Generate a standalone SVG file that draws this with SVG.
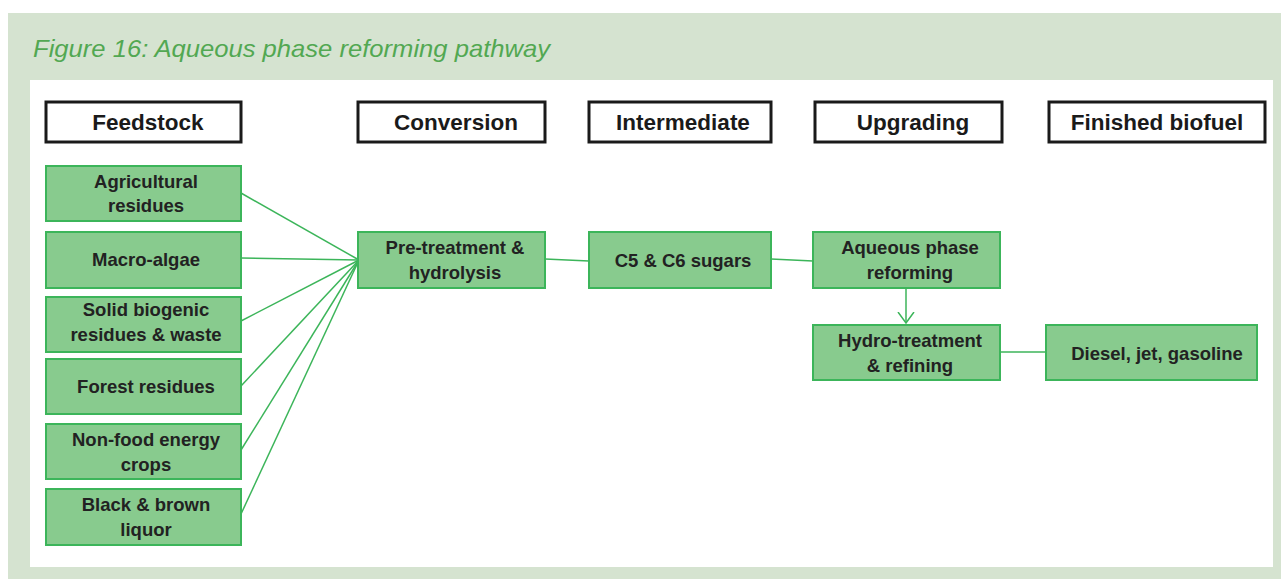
<svg xmlns="http://www.w3.org/2000/svg" width="1281" height="579" viewBox="0 0 1281 579">
<style>
.hdr{fill:#fff;stroke:#1a1a1a;stroke-width:3}
.hdrt{font-family:"Liberation Sans",Arial,sans-serif;font-weight:bold;font-size:22.5px;fill:#1a1a1a;text-anchor:middle}
.box{fill:#88cb8e;stroke:#3cb55a;stroke-width:2}
.bt{font-family:"Liberation Sans",Arial,sans-serif;font-weight:bold;font-size:18.5px;fill:#222;text-anchor:middle}
.ln{stroke:#3cb55a;stroke-width:1.5;fill:none}
</style>
<defs>
<marker id="arr" viewBox="0 0 12 18" refX="11" refY="9" markerWidth="12" markerHeight="18" markerUnits="userSpaceOnUse" orient="auto">
<path d="M0,1 L11,9 L0,17" fill="none" stroke="#3cb55a" stroke-width="1.5"/>
</marker>
</defs>
<rect x="8" y="13" width="1273" height="566" fill="#d5e3d0"/>
<rect x="30" y="80" width="1243" height="487" fill="#fff"/>
<text x="33" y="57" font-family="Liberation Sans,Arial,sans-serif" font-style="italic" font-size="24" fill="#52a852" textLength="517" lengthAdjust="spacingAndGlyphs">Figure 16: Aqueous phase reforming pathway</text>

<g id="h-feedstock"><rect class="hdr" x="46" y="102" width="195" height="40"/><text class="hdrt" x="148" y="130">Feedstock</text></g>
<g id="h-conversion"><rect class="hdr" x="358" y="102" width="187" height="40"/><text class="hdrt" x="456" y="130">Conversion</text></g>
<g id="h-intermediate"><rect class="hdr" x="589" y="102" width="182" height="40"/><text class="hdrt" x="683" y="130">Intermediate</text></g>
<g id="h-upgrading"><rect class="hdr" x="815" y="102" width="187" height="40"/><text class="hdrt" x="913" y="130">Upgrading</text></g>
<g id="h-finished"><rect class="hdr" x="1049" y="102" width="216" height="40"/><text class="hdrt" x="1157" y="130">Finished biofuel</text></g>

<g id="connectors">
<line class="ln" x1="241" y1="193" x2="359" y2="260"/>
<line class="ln" x1="241" y1="258" x2="359" y2="260"/>
<line class="ln" x1="241" y1="321" x2="359" y2="260"/>
<line class="ln" x1="241" y1="386" x2="359" y2="260"/>
<line class="ln" x1="241" y1="450" x2="359" y2="260"/>
<line class="ln" x1="241" y1="514" x2="359" y2="260"/>
<line class="ln" x1="545" y1="259" x2="589" y2="261"/>
<line class="ln" x1="771" y1="259" x2="813" y2="261"/>
<line class="ln" x1="906" y1="289" x2="906" y2="323" marker-end="url(#arr)"/>
<line class="ln" x1="1000" y1="352" x2="1046" y2="352"/>
</g>

<g id="n-agri"><rect class="box" x="46" y="166" width="195" height="55"/><text class="bt" x="146" y="188">Agricultural</text><text class="bt" x="146" y="212">residues</text></g>
<g id="n-macro"><rect class="box" x="46" y="232" width="195" height="56"/><text class="bt" x="146" y="266">Macro-algae</text></g>
<g id="n-solid"><rect class="box" x="46" y="297" width="195" height="55"/><text class="bt" x="146" y="316">Solid biogenic</text><text class="bt" x="146" y="341">residues &amp;  waste</text></g>
<g id="n-forest"><rect class="box" x="46" y="359" width="195" height="55"/><text class="bt" x="146" y="393">Forest residues</text></g>
<g id="n-nonfood"><rect class="box" x="46" y="424" width="195" height="55"/><text class="bt" x="146" y="446">Non-food energy</text><text class="bt" x="146" y="471">crops</text></g>
<g id="n-black"><rect class="box" x="46" y="489" width="195" height="56"/><text class="bt" x="146" y="511">Black &amp; brown</text><text class="bt" x="146" y="536">liquor</text></g>

<g id="n-pretreat"><rect class="box" x="358" y="232" width="187" height="56"/><text class="bt" x="455" y="254">Pre-treatment &amp;</text><text class="bt" x="455" y="279">hydrolysis</text></g>
<g id="n-sugars"><rect class="box" x="589" y="232" width="182" height="56"/><text class="bt" x="683" y="267">C5 &amp; C6 sugars</text></g>
<g id="n-apr"><rect class="box" x="813" y="232" width="187" height="56"/><text class="bt" x="910" y="254">Aqueous phase</text><text class="bt" x="910" y="279">reforming</text></g>
<g id="n-hydro"><rect class="box" x="813" y="325" width="187" height="55"/><text class="bt" x="910" y="347">Hydro-treatment</text><text class="bt" x="910" y="372">&amp; refining</text></g>
<g id="n-diesel"><rect class="box" x="1046" y="325" width="211" height="55"/><text class="bt" x="1157" y="360">Diesel, jet, gasoline</text></g>
</svg>
